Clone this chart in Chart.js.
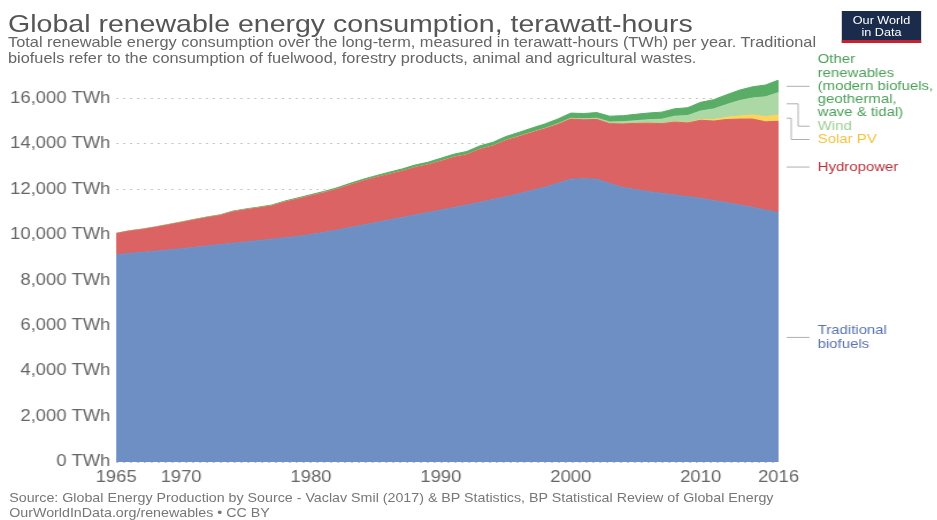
<!DOCTYPE html>
<html>
<head>
<meta charset="utf-8">
<script src="https://cdn.jsdelivr.net/npm/chart.js@4.4.1/dist/chart.umd.min.js"></script>
<style>
  html, body { margin: 0; padding: 0; background: #fff; }
  body { width: 937px; height: 520px; overflow: hidden; position: relative; font-family: "Liberation Sans", Arial, sans-serif; }
  #wrap { position: absolute; left: 0; top: 0; width: 815px; height: 520px; transform: scaleX(1.15); transform-origin: 0 0; }
  #chart { position: absolute; left: 0; top: 0; }
  .title { position: absolute; left: 7px; top: 11px; font-size: 24.8px; line-height: 26px; color: #555; white-space: nowrap; }
  .subtitle { position: absolute; left: 7px; top: 35px; font-size: 14.2px; line-height: 15.5px; color: #666; white-space: nowrap; }
  .footer { position: absolute; left: 8px; top: 491px; font-size: 12.4px; line-height: 15px; color: #777; white-space: nowrap; }
  .logo { position: absolute; left: 732px; top: 11px; width: 69px; height: 32px; background: #1a2b4c; border-bottom: 3px solid #c8202f; box-sizing: border-box; color: #fff; font-size: 11px; line-height: 12px; text-align: center; padding-top: 3px; }
</style>
</head>
<body>
<div id="wrap">
  <div class="title">Global renewable energy consumption, terawatt-hours</div>
  <div class="subtitle">Total renewable energy consumption over the long-term, measured in terawatt-hours (TWh) per year. Traditional<br>biofuels refer to the consumption of fuelwood, forestry products, animal and agricultural wastes.</div>
  <div class="logo">Our World<br>in Data</div>
  <canvas id="chart" width="815" height="520"></canvas>
  <div class="footer">Source: Global Energy Production by Source - Vaclav Smil (2017) &amp; BP Statistics, BP Statistical Review of Global Energy<br>OurWorldInData.org/renewables • CC BY</div>
</div>
<script>
const years = [
  1965, 1966, 1967, 1968, 1969, 1970, 1971, 1972, 1973, 1974,
  1975, 1976, 1977, 1978, 1979, 1980, 1981, 1982, 1983, 1984,
  1985, 1986, 1987, 1988, 1989, 1990, 1991, 1992, 1993, 1994,
  1995, 1996, 1997, 1998, 1999, 2000, 2001, 2002, 2003, 2004,
  2005, 2006, 2007, 2008, 2009, 2010, 2011, 2012, 2013, 2014,
  2015, 2016
];

// TWh per year
const traditional = [
  9120, 9170, 9220, 9270, 9320, 9380, 9440, 9500, 9560, 9620,
  9680, 9740, 9800, 9860, 9920, 10000, 10100, 10200, 10310, 10420,
  10530, 10640, 10750, 10860, 10970, 11080, 11190, 11300, 11420, 11540,
  11660, 11800, 11940, 12080, 12260, 12440, 12460, 12440, 12250, 12070,
  11980, 11890, 11820, 11740, 11670, 11600, 11500, 11400, 11300, 11200,
  11080, 10960
];
const hydro = [
  923, 983, 1007, 1052, 1106, 1153, 1206, 1251, 1283, 1387,
  1419, 1437, 1466, 1574, 1648, 1708, 1743, 1795, 1874, 1935,
  1977, 2009, 2036, 2091, 2098, 2152, 2211, 2214, 2330, 2357,
  2481, 2509, 2546, 2571, 2586, 2644, 2588, 2626, 2631, 2798,
  2912, 3013, 3059, 3213, 3241, 3431, 3495, 3662, 3781, 3882,
  3880, 4023
];
const solar = [
  0, 0, 0, 0, 0, 0, 0, 0, 0, 0,
  0, 0, 0, 0, 0, 0, 0, 0, 0, 0,
  0, 0, 0, 0, 0, 0, 0, 0, 0, 0,
  0, 0, 0, 0, 0, 1, 1, 2, 2, 3,
  4, 6, 8, 12, 20, 33, 64, 100, 135, 180,
  230, 275
];
const wind = [
  0, 0, 0, 0, 0, 0, 0, 0, 0, 0,
  0, 0, 0, 0, 0, 0, 0, 0, 0, 0,
  0, 0, 0, 0, 0, 4, 4, 5, 6, 7,
  8, 12, 15, 21, 28, 35, 42, 55, 70, 95,
  115, 145, 190, 245, 305, 375, 470, 560, 680, 750,
  870, 990
];
const other = [
  15, 16, 17, 18, 20, 22, 24, 26, 28, 30,
  33, 36, 40, 44, 48, 52, 58, 64, 70, 78,
  86, 94, 100, 108, 115, 125, 132, 140, 148, 156,
  165, 175, 185, 195, 210, 225, 235, 245, 255, 265,
  280, 295, 310, 325, 345, 380, 405, 430, 460, 490,
  520, 550
];

const xTicks = [1965, 1970, 1980, 1990, 2000, 2010, 2016];
const yTicks = [0, 2000, 4000, 6000, 8000, 10000, 12000, 14000, 16000];

// bottom to top
const series = [
  { name: ["Traditional", "biofuels"], values: traditional, fill: "#6d8fc4", text: "#5a72ad" },
  { name: ["Hydropower"], values: hydro, fill: "#dc6363", text: "#b8323b" },
  { name: ["Solar PV"], values: solar, fill: "#fdd55a", text: "#f2c23c" },
  { name: ["Wind"], values: wind, fill: "#acd8a5", text: "#9ccf95" },
  { name: ["Other", "renewables", "(modern biofuels,", "geothermal,", "wave & tidal)"], values: other, fill: "#5aad67", text: "#4b9f59" }
];

// labels on the right, one per band, pushed down when they would overlap
const sideLabels = {
  id: "sideLabels",
  afterDatasetsDraw(chart) {
    const { ctx, chartArea, scales } = chart;
    const last = years.length - 1;
    const lineH = 13.3;
    let base = 0;
    const anchors = series.map(s => {
      const v = s.values[last];
      const mid = base + v / 2;
      base += v;
      return scales.y.getPixelForValue(mid);
    });
    const r = chartArea.right;
    ctx.save();
    ctx.font = '13px "Liberation Sans", Arial, sans-serif';
    ctx.textBaseline = "middle";
    ctx.textAlign = "left";
    ctx.lineWidth = 1;
    ctx.strokeStyle = "#b0b0b0";
    let prevBottom = -Infinity;
    let pushed = 0;
    for (let i = series.length - 1; i >= 0; i--) {
      const s = series[i];
      const h = s.name.length * lineH;
      let top = anchors[i] - h / 2;
      const moved = top < prevBottom;
      if (moved) top = prevBottom;
      prevBottom = top + h;
      const cy = top + h / 2;
      ctx.beginPath();
      if (moved) {
        const ex = r + 17 - 6 * pushed;
        ctx.moveTo(r + 7, anchors[i]);
        ctx.lineTo(ex, anchors[i]);
        ctx.lineTo(ex, cy);
        ctx.lineTo(r + 27, cy);
        pushed++;
      } else {
        ctx.moveTo(r + 7, anchors[i]);
        ctx.lineTo(r + 27, anchors[i]);
      }
      ctx.stroke();
      ctx.fillStyle = s.text;
      s.name.forEach((line, k) => ctx.fillText(line, r + 34, top + lineH * (k + 0.5)));
    }
    ctx.restore();
  }
};

new Chart(document.getElementById("chart"), {
  type: "line",
  data: {
    datasets: series.map((s, i) => ({
      label: s.name.join(" "),
      data: s.values.map((v, k) => ({ x: years[k], y: v })),
      backgroundColor: s.fill,
      borderColor: s.fill,
      borderWidth: 1,
      pointRadius: 0,
      tension: 0,
      fill: i === 0 ? "origin" : "-1",
    })),
  },
  options: {
    responsive: false,
    animation: false,
    events: [],
    layout: { padding: { top: 80, right: 138, left: 0, bottom: 0 } },
    plugins: { legend: { display: false }, tooltip: { enabled: false } },
    scales: {
      x: {
        type: "linear",
        min: 1965,
        max: 2016,
        afterBuildTicks: (axis) => { axis.ticks = xTicks.map(v => ({ value: v })); },
        afterFit: (axis) => { axis.height = 58; },
        grid: { display: false, drawTicks: false },
        border: { display: false },
        ticks: {
          padding: 6,
          color: "#666",
          font: { family: '"Liberation Sans", Arial, sans-serif', size: 16 },
          maxRotation: 0,
          autoSkip: false,
          callback: (v) => String(v),
        },
      },
      y: {
        stacked: true,
        min: 0,
        max: 16800,
        afterBuildTicks: (axis) => { axis.ticks = yTicks.map(v => ({ value: v })); },
        afterFit: (axis) => { axis.width = 101; },
        grid: { color: "#c8c8c8", drawTicks: false, lineWidth: 1 },
        border: { display: false, dash: [2, 4] },
        ticks: {
          padding: 5,
          color: "#666",
          font: { family: '"Liberation Sans", Arial, sans-serif', size: 16 },
          callback: (v) => v.toLocaleString("en-US") + " TWh",
        },
      },
    },
  },
  plugins: [sideLabels],
});
</script>
</body>
</html>
